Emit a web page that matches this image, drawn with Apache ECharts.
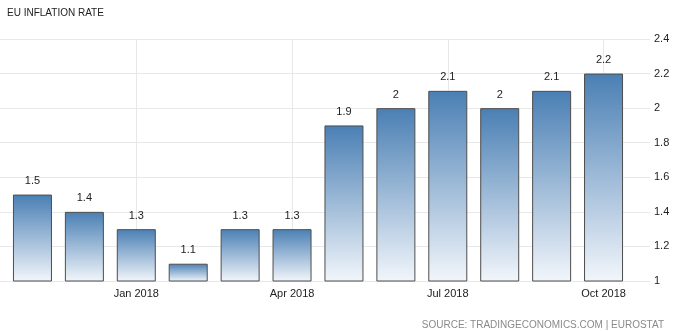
<!DOCTYPE html>
<html><head><meta charset="utf-8">
<script src="https://cdn.jsdelivr.net/npm/echarts@6/dist/echarts.min.js"></script>
<style>html,body{margin:0;padding:0;background:#fff}#c{width:674px;height:332px}</style>
</head><body><div id="c"></div>
<script>
const categories = ['Nov 2017','Dec 2017','Jan 2018','Feb 2018','Mar 2018','Apr 2018','May 2018','Jun 2018','Jul 2018','Aug 2018','Sep 2018','Oct 2018'];
const values = [1.5, 1.4, 1.3, 1.1, 1.3, 1.3, 1.9, 2, 2.1, 2, 2.1, 2.2];
const yTicks = [1, 1.2, 1.4, 1.6, 1.8, 2, 2.2, 2.4];
const titleText = 'EU INFLATION RATE';
const sourceText = 'SOURCE: TRADINGECONOMICS.COM | EUROSTAT';

const FONT = 'Liberation Sans';
const chart = echarts.init(document.getElementById('c'), null, {renderer: 'canvas'});
chart.setOption({
  animation: false,
  backgroundColor: '#fff',
  title: [
    {text: titleText, left: 7, top: 8, padding: 0, textStyle: {fontFamily: FONT, fontSize: 10, fontWeight: 'normal', color: '#222'}},
    {text: sourceText, right: 10, top: 320, padding: 0, textStyle: {fontFamily: FONT, fontSize: 10, fontWeight: 'normal', color: '#8a8a8a'}}
  ],
  grid: [
    {left: 0, right: 24, top: 39, bottom: 51},
    {left: 6.5, right: 44.5, top: 39, bottom: 51}
  ],
  xAxis: [
    {gridIndex: 0, type: 'value', min: 0, max: 1, show: false},
    {gridIndex: 1, type: 'category', data: categories, boundaryGap: true,
     axisLine: {show: false},
     axisTick: {show: true, alignWithLabel: true, inside: true, length: 242,
       interval: (i) => i % 3 === 2, lineStyle: {color: '#e8e8e8'}},
     axisLabel: {interval: (i) => i % 3 === 2, margin: 7, fontFamily: FONT, fontSize: 11, color: '#222'},
     splitLine: {show: false}}
  ],
  yAxis: [
    {gridIndex: 0, type: 'value', position: 'right', min: 1, max: 2.4, interval: 0.2,
     axisLine: {show: false}, axisTick: {show: false},
     axisLabel: {margin: 4, fontFamily: FONT, fontSize: 11, color: '#222', formatter: (v) => String(Math.round(v * 10) / 10)},
     splitLine: {show: true, lineStyle: {color: '#e8e8e8'}}},
    {gridIndex: 1, type: 'value', min: 1, max: 2.4, interval: 0.2, show: false, splitLine: {show: false}}
  ],
  series: [{
    type: 'bar', xAxisIndex: 1, yAxisIndex: 1, data: values, barWidth: 39, z: 3,
    itemStyle: {
      borderColor: '#4d4d4d', borderWidth: 1,
      color: new echarts.graphic.LinearGradient(0, 0, 0, 1, [
        {offset: 0, color: '#4a7fb4'}, {offset: 1, color: '#f2f6fb'}
      ])
    },
    label: {show: true, position: 'top', distance: 8, fontFamily: FONT, fontSize: 11, color: '#222'}
  }]
});
</script></body></html>
